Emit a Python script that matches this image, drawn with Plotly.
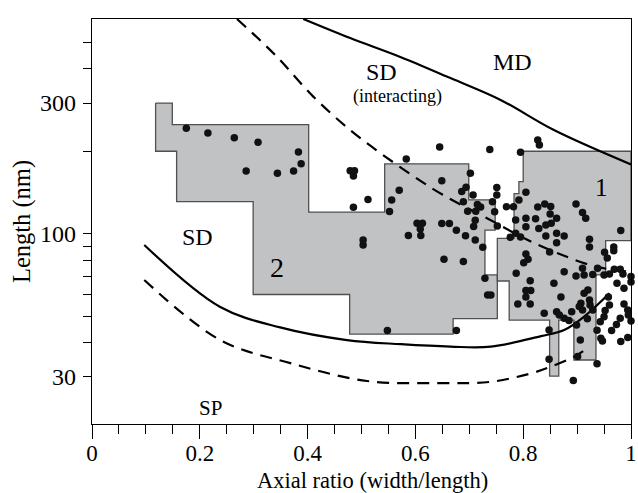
import math
import plotly.graph_objects as go

# ---------------- data ----------------
pts_x = [0.175, 0.215, 0.264, 0.308, 0.383, 0.388, 0.374, 0.344, 0.286,
         0.479, 0.487, 0.485, 0.512, 0.485, 0.583, 0.645, 0.570, 0.556, 0.552, 0.649,
         0.503, 0.503, 0.603, 0.613, 0.609, 0.587, 0.610, 0.649, 0.663, 0.676,
         0.693, 0.711, 0.725, 0.653, 0.689, 0.729, 0.734, 0.740, 0.548, 0.676,
         0.738, 0.702, 0.694, 0.686, 0.707, 0.751, 0.751, 0.689, 0.743, 0.715,
         0.721, 0.697, 0.712, 0.747, 0.711, 0.708, 0.752,
         0.795, 0.827, 0.830, 0.805, 0.792, 0.769, 0.782, 0.827, 0.840, 0.851,
         0.898, 0.910, 0.916, 0.805, 0.786, 0.823, 0.805, 0.829, 0.842, 0.852,
         0.850, 0.862, 0.776, 0.786, 0.795, 0.842, 0.862, 0.876, 0.862, 0.849,
         0.805, 0.809, 0.801, 0.981, 0.923, 0.923, 0.968, 0.968, 0.951, 0.956, 1.003,
         0.787, 0.813, 0.805, 0.814, 0.805, 0.790, 0.813, 0.876, 0.857, 0.870,
         0.898, 0.910, 0.913, 0.929, 0.938, 0.950, 0.960, 0.969, 0.980, 0.985,
         1.000, 1.000, 0.974, 0.987, 0.913, 0.920, 0.923, 0.907, 0.904, 0.910,
         0.924, 0.929, 0.958, 0.960, 0.952, 0.987, 0.994, 0.995, 1.000, 0.980,
         0.973, 0.839, 0.862, 0.867, 0.876, 0.885, 0.890, 0.899, 0.919, 0.943,
         0.950, 0.937, 0.944, 0.947, 0.964, 0.981, 0.994, 0.848, 0.906, 0.848,
         0.901, 0.937, 0.893]
pts_y = [242.6, 233.2, 224.2, 215.7, 198.7, 180.1, 169.4, 166.2, 169.4,
         169.8, 169.8, 162.4, 133.3, 125.0, 187.4, 207.3, 144.2, 132.8, 120.5, 156.2,
         94.9, 90.9, 109.2, 109.2, 104.1, 98.5, 98.5, 109.0, 109.0, 103.0,
         98.4, 94.9, 89.2, 80.7, 79.1, 68.8, 59.8, 59.8, 44.3, 44.3,
         203.0, 166.2, 147.7, 142.6, 138.5, 147.5, 138.5, 130.9, 130.9, 127.9,
         125.2, 120.7, 120.7, 120.3, 111.9, 106.3, 106.7,
         198.2, 219.8, 210.8, 141.7, 132.8, 125.5, 125.5, 125.2, 128.4, 125.7,
         128.4, 119.5, 113.8, 113.8, 112.2, 113.4, 106.1, 104.5, 107.6, 109.2,
         118.0, 113.8, 97.0, 100.4, 97.3, 98.1, 100.4, 98.1, 92.7, 85.8,
         84.4, 80.7, 78.4, 102.8, 95.4, 89.4, 89.4, 86.7, 85.5, 81.5, 85.4,
         71.7, 67.4, 62.1, 62.1, 58.8, 55.4, 55.4, 72.7, 65.9, 58.8,
         70.1, 74.8, 70.7, 71.0, 74.8, 70.7, 71.3, 74.2, 74.2, 71.3,
         69.8, 66.6, 65.9, 63.2, 60.6, 62.3, 57.3, 55.7, 54.2, 52.7,
         54.9, 52.7, 58.8, 54.9, 52.5, 55.4, 52.7, 50.5, 48.0, 49.1,
         46.6, 51.2, 51.9, 50.5, 49.1, 48.2, 51.9, 46.4, 48.9, 47.7,
         49.8, 44.4, 41.5, 40.6, 44.3, 40.4, 41.8, 44.5, 40.9, 34.8,
         35.6, 33.5, 29.1]

# grey region 2 (left)
reg2_x = [0.118, 0.149, 0.149, 0.402, 0.402, 0.543, 0.543, 0.699, 0.699, 0.748, 0.748,
          0.729, 0.729, 0.752, 0.752, 0.670, 0.670, 0.478, 0.478, 0.299, 0.299,
          0.157, 0.157, 0.118, 0.118]
reg2_y = [300, 300, 250, 250, 120, 120, 180, 180, 133, 133, 103,
          103, 70.7, 70.7, 49, 49, 43, 43, 60, 60, 131,
          131, 200, 200, 300]

# grey region 1 (right)
reg1_x = [0.800, 1.000, 1.000, 0.953, 0.953, 0.935, 0.935, 0.894, 0.894, 0.866, 0.866,
          0.849, 0.849, 0.774, 0.774, 0.752, 0.752, 0.783, 0.783, 0.792, 0.792,
          0.800, 0.800]
reg1_y = [200, 200, 94.3, 94.3, 70.7, 70.7, 34.6, 34.6, 48.4, 48.4, 30.2,
          30.2, 48.4, 48.4, 67.2, 67.2, 96.2, 96.2, 140, 140, 155,
          155, 200]

# boundary curves
md_x = [0.392, 0.479, 0.572, 0.665, 0.758, 0.857, 1.000]
md_y = [608, 518, 442, 370, 308, 239, 179]

sdi_x = [0.269, 0.340, 0.411, 0.479, 0.535, 0.591, 0.650, 0.740, 0.801, 0.864, 0.935, 1.000]
sdi_y = [608, 449, 316, 239, 197, 165, 139, 112, 96.5, 84.9, 75.8, 72.5]

sd_x = [0.097, 0.238, 0.349, 0.473, 0.573, 0.665, 0.740, 0.833, 0.876, 0.913, 0.960]
sd_y = [91.0, 54.0, 45.5, 40.9, 39.5, 38.7, 38.7, 42.3, 44.5, 49.8, 60.6]

sp_x = [0.097, 0.238, 0.368, 0.510, 0.647, 0.740, 0.814, 0.851, 0.895, 0.922]
sp_y = [67.8, 40.9, 33.7, 29.0, 28.5, 28.8, 30.9, 32.7, 35.6, 38.6]

x_ticks = [0, 0.2, 0.4, 0.6, 0.8, 1.0]
x_ticktext = ["0", "0.2", "0.4", "0.6", "0.8", "1"]
y_ticks = [30, 100, 300]
y_ticktext = ["30", "100", "300"]
y_minor = [40, 50, 60, 70, 80, 90, 200, 400, 500]

labels = [("MD", 0.781, 423, 24), ("SD", 0.537, 389, 24), ("(interacting)", 0.567, 318, 18),
          ("SD", 0.195, 97.3, 24), ("2", 0.343, 75, 28), ("1", 0.946, 147, 25),
          ("SP", 0.219, 23.1, 21)]

# ---------------- figure ----------------
FONT = "Liberation Serif"
fig = go.Figure()

for rx, ry in [(reg2_x, reg2_y), (reg1_x, reg1_y)]:
    fig.add_trace(go.Scatter(x=rx, y=ry, mode="lines", fill="toself",
                             fillcolor="#c1c2c4", line=dict(color="#505050", width=1.3),
                             hoverinfo="skip"))

fig.add_trace(go.Scatter(x=md_x, y=md_y, mode="lines", line=dict(color="black", width=2.2, shape="spline")))
fig.add_trace(go.Scatter(x=sdi_x, y=sdi_y, mode="lines",
                         line=dict(color="black", width=2.2, dash="12px,8px", shape="spline")))
fig.add_trace(go.Scatter(x=sd_x, y=sd_y, mode="lines", line=dict(color="black", width=2.2, shape="spline")))
fig.add_trace(go.Scatter(x=sp_x, y=sp_y, mode="lines",
                         line=dict(color="black", width=2.2, dash="12px,8px", shape="spline")))

# measured particles (drawn on the overlaid x axis that carries the long major ticks)
fig.add_trace(go.Scatter(x=pts_x, y=pts_y, mode="markers", cliponaxis=False, xaxis="x2",
                         marker=dict(color="#111111", size=7.5, line=dict(width=0))))

for txt, lx, ly, fs in labels:
    fig.add_annotation(x=lx, y=math.log10(ly), text=txt, showarrow=False,
                       font=dict(family=FONT, size=fs, color="black"))

# x axis title
fig.add_annotation(xref="paper", yref="paper", x=0.521, y=-0.139, yanchor="middle",
                   text="Axial ratio (width/length)", showarrow=False,
                   font=dict(family=FONT, size=22.5, color="black"))

fig.update_layout(
    width=638, height=493,
    margin=dict(l=92, r=7, t=19, b=69),
    plot_bgcolor="white", paper_bgcolor="white",
    showlegend=False,
    font=dict(family=FONT, size=23, color="black"),
    xaxis2=dict(overlaying="x", anchor="y", side="bottom", range=[0, 1],
                tickvals=x_ticks, ticks="outside", ticklen=14, tickwidth=1.3,
                tickcolor="black", showticklabels=False, showgrid=False,
                zeroline=False, showline=False, automargin=False),
)
fig.layout.xaxis.update(range=[0, 1], tickvals=x_ticks, ticktext=x_ticktext,
                        ticks="outside", ticklen=8, tickwidth=1.3, tickcolor="black",
                        showline=True, linecolor="black", linewidth=1.3, mirror=True,
                        showgrid=False, zeroline=False, automargin=False,
                        tickfont=dict(family=FONT, size=23),
                        minor=dict(dtick=0.05, tick0=0, ticks="outside", ticklen=9,
                                   tickwidth=1.3, tickcolor="black", showgrid=False))
fig.update_yaxes(type="log", range=[math.log10(20.2), math.log10(608)],
                 tickvals=y_ticks, ticktext=y_ticktext,
                 ticks="outside", ticklen=8, tickwidth=1.3, tickcolor="black",
                 showline=True, linecolor="black", linewidth=1.3, mirror=True,
                 showgrid=False, zeroline=False, automargin=False,
                 tickfont=dict(family=FONT, size=24), ticklabelstandoff=2,
                 minor=dict(tickvals=y_minor, ticks="outside", ticklen=8,
                            tickwidth=1.3, tickcolor="black", showgrid=False),
                 title=dict(text="Length (nm)", standoff=2,
                            font=dict(family=FONT, size=24.5)))

fig.write_html("out.html")
